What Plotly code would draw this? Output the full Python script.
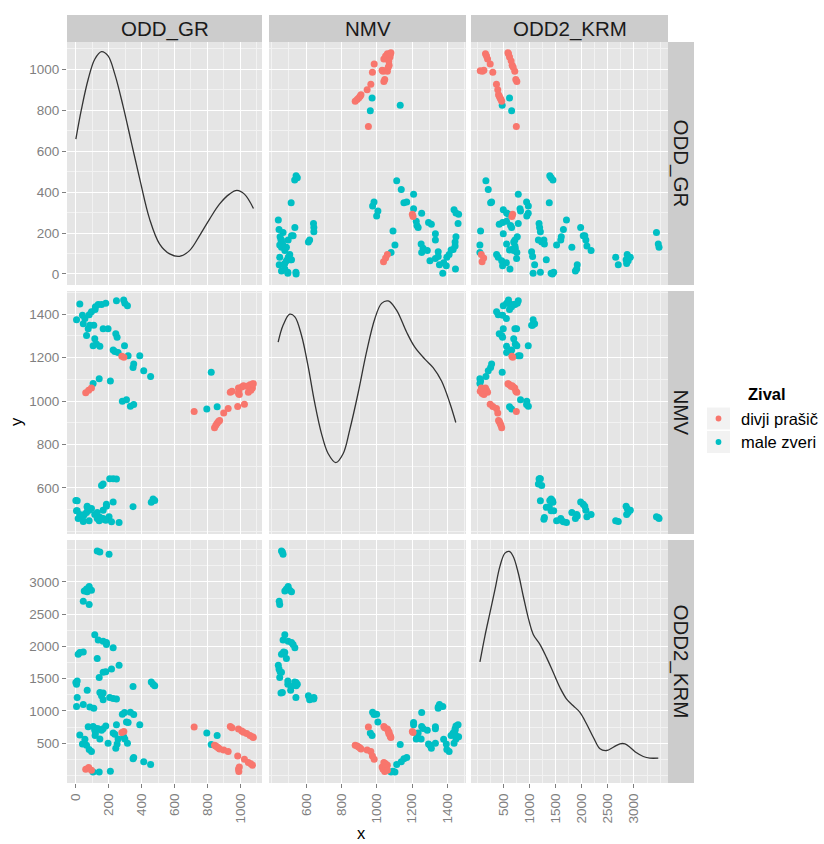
import plotly.graph_objects as go

# ---------------------------------------------------------------- data
variables = ["ODD_GR", "NMV", "ODD2_KRM"]

# divji prašič
prasic_odd_gr = [720, 844, 852, 860, 868, 875, 900, 927, 985, 1026, 1050, 1075, 1065, 990, 995,
                 992, 940, 950, 990, 1010, 1020, 1060, 1080, 1075, 1040, 60, 78, 95, 280, 292]
prasic_nmv = [952, 877, 888, 897, 905, 910, 945, 966, 975, 985, 1040, 1060, 1050, 1035, 1030,
              1045, 1040, 1045, 1060, 1065, 1070, 1075, 1080, 1078, 1068, 1038, 1050, 1060, 1206, 1202]
prasic_krm = [750, 470, 455, 440, 425, 410, 395, 370, 300, 250, 200, 160, 180, 100, 130,
              60, 760, 740, 720, 690, 670, 620, 590, 600, 650, 95, 125, 80, 665, 680]

# male zveri
zveri_odd_gr = [130, 146, 202, 45, 81, 51, 65, 81, 95, 69, 115, 136, 166, 186, 186, 227, 14, 24,
                45, 130, 263, 142, 166, 182, 217, 0, 4, 8, 459, 470, 480, 348, 146, 166, 206, 227,
                247, 8, 69, 156, 166,
                24, 4, 40, 55, 45, 81, 95, 75, 85, 109, 65, 115, 125, 105, 146, 119, 136, 156, 182,
                117, 166, 196, 247, 291, 298, 314, 243, 251, 296, 227, 237, 257, 318, 389, 352, 348,
                413, 455, 142, 105, 210, 283, 308, 332, 352,
                797, 860, 824]
zveri_nmv = [458, 463, 467, 445, 448, 477, 486, 496, 505, 515, 477, 467, 496, 515, 524, 534, 458,
             477, 470, 486, 440, 448, 458, 450, 444, 541, 494, 494, 533, 548, 541, 513, 463, 455,
             642, 642, 640, 540, 510, 611, 618,
             1447, 1375, 1395, 1380, 1356, 1398, 1411, 1333, 1349, 1349, 1302, 1287, 1263, 1255,
             1252, 1434, 1445, 1445, 1450, 1422, 1333, 1333, 1462, 1465, 1450, 1439, 1310, 1294,
             1255, 1235, 1228, 1224, 1209, 1209, 1170, 1154, 1139, 1113, 1103, 1081, 1092, 999,
             1006, 976, 984,
             963, 973, 1133]
zveri_krm = [3480, 3465, 3430, 2700, 2650, 2860, 2890, 2930, 2870, 2850, 2180, 2100, 2080, 2060,
             2030, 1980, 1880, 1905, 1915, 1812, 1709, 1520, 1600, 1610, 1650, 1440, 1415, 1465,
             1450, 1415, 1390, 1380, 1287, 1277, 1210, 1195, 1185, 1210, 1323, 1235, 1172,
             628, 1071, 487, 560, 1100, 404, 372, 755, 1061, 1042, 470, 700, 730, 760, 564, 660,
             723, 700, 768, 620, 723, 500, 787, 600, 564, 500, 423, 487, 978, 660, 640, 564, 820,
             787, 277, 258, 213, 168, 53, 53, 66, 950, 830, 980, 946,
             660, 620, 480]

group_names = ["male zveri", "divji prašič"]
group_colors = ["#00BFC4", "#F8766D"]

# density curves on the diagonal, rescaled to each variable's range
dens_odd_gr_x = [0, 34, 75, 115, 156, 196, 237, 287, 338, 389, 449, 510, 571, 631, 692, 753,
                 814, 874, 935, 980, 1026, 1081]
dens_odd_gr_y = [659, 805, 951, 1049, 1086, 1065, 976, 821, 642, 463, 268, 146, 98, 86, 114,
                 187, 268, 341, 390, 408, 390, 320]
dens_nmv_x = [439, 467, 505, 534, 572, 609, 647, 685, 723, 767, 809, 846, 894, 941, 989, 1027,
              1065, 1112, 1169, 1216, 1273, 1320, 1368, 1415, 1449]
dens_nmv_y = [1271, 1349, 1400, 1388, 1302, 1162, 991, 851, 758, 716, 758, 867, 1038, 1224, 1380,
              1450, 1461, 1419, 1318, 1248, 1193, 1154, 1092, 991, 901]
dens_krm_x = [54, 149, 245, 341, 436, 532, 615, 691, 787, 883, 978, 1074, 1201, 1329, 1457, 1584,
              1712, 1839, 1967, 2094, 2222, 2350, 2477, 2605, 2732, 2827, 2923, 3050, 3178, 3305,
              3465]
dens_krm_y = [1760, 2162, 2522, 2882, 3242, 3448, 3473, 3396, 3139, 2779, 2444, 2187, 2033, 1827,
              1596, 1364, 1184, 1081, 978, 798, 593, 413, 387, 438, 490, 490, 438, 351, 294, 269,
              269]

ticks_odd_gr = [0, 200, 400, 600, 800, 1000]
ticks_nmv = [600, 800, 1000, 1200, 1400]
ticks_krm = [500, 1000, 1500, 2000, 2500, 3000]

legend_title = "Zival"
x_title = "x"
y_title = "y"

# ---------------------------------------------------------------- setup
values = {
    "ODD_GR": (zveri_odd_gr, prasic_odd_gr),
    "NMV": (zveri_nmv, prasic_nmv),
    "ODD2_KRM": (zveri_krm, prasic_krm),
}
densities = {
    "ODD_GR": (dens_odd_gr_x, dens_odd_gr_y),
    "NMV": (dens_nmv_x, dens_nmv_y),
    "ODD2_KRM": (dens_krm_x, dens_krm_y),
}
ticks = {"ODD_GR": ticks_odd_gr, "NMV": ticks_nmv, "ODD2_KRM": ticks_krm}
ranges = {"ODD_GR": [-54, 1133], "NMV": [387, 1507], "ODD2_KRM": [-117, 3651]}
minor_step = {"ODD_GR": 100, "NMV": 100, "ODD2_KRM": 250}

W, H = 824, 844
col_px = [(67, 262), (269, 466), (471, 668)]
row_px = [(42, 285), (291, 534), (540, 783)]
FONT = "Liberation Sans, Arial, sans-serif"
TICK_GREY = "#7F7F7F"


def px_x(v):
    return v / W


def px_y(v):
    return 1 - v / H


fig = go.Figure()
layout_axes = {}

for r, row_var in enumerate(variables):
    for c, col_var in enumerate(variables):
        k = r * 3 + c + 1
        xa = "x" if k == 1 else f"x{k}"
        ya = "y" if k == 1 else f"y{k}"
        if r == c:
            dx, dy = densities[col_var]
            fig.add_trace(go.Scatter(
                x=dx, y=dy, mode="lines", xaxis=xa, yaxis=ya,
                line=dict(color="#333333", width=1.3, shape="spline", smoothing=1.0),
                showlegend=False, hoverinfo="skip"))
        else:
            for g in range(2):
                fig.add_trace(go.Scatter(
                    x=values[col_var][g], y=values[row_var][g], mode="markers",
                    xaxis=xa, yaxis=ya, name=group_names[g], showlegend=False,
                    marker=dict(color=group_colors[g], size=7, line=dict(width=0))))

        bottom = r == 2
        left = c == 0
        common = dict(
            gridcolor="white", gridwidth=1.4, zeroline=False, showline=False,
            tickmode="array",
            tickfont=dict(family=FONT, size=13.5, color=TICK_GREY),
            tickcolor=TICK_GREY, ticklen=4, tickwidth=1,
        )
        x_key = "xaxis" if k == 1 else f"xaxis{k}"
        y_key = "yaxis" if k == 1 else f"yaxis{k}"
        layout_axes[x_key] = dict(
            common,
            domain=[px_x(col_px[c][0]), px_x(col_px[c][1])],
            anchor=ya, range=ranges[col_var], tickvals=ticks[col_var],
            showticklabels=bottom, ticks="outside" if bottom else "",
            tickangle=-90,
            minor=dict(tickmode="linear", tick0=0, dtick=minor_step[col_var], showgrid=True,
                       gridcolor="#F2F2F2", gridwidth=0.8, ticks=""),
        )
        layout_axes[y_key] = dict(
            common,
            domain=[px_y(row_px[r][1]), px_y(row_px[r][0])],
            anchor=xa, range=ranges[row_var], tickvals=ticks[row_var],
            showticklabels=left, ticks="outside" if left else "",
            minor=dict(tickmode="linear", tick0=0, dtick=minor_step[row_var], showgrid=True,
                       gridcolor="#F2F2F2", gridwidth=0.8, ticks=""),
        )

shapes = []
annotations = []

# facet strips: top (columns) and right (rows)
for c, name in enumerate(variables):
    x0, x1 = col_px[c]
    shapes.append(dict(type="rect", xref="paper", yref="paper",
                       x0=px_x(x0), x1=px_x(x1), y0=px_y(42), y1=px_y(15),
                       fillcolor="#CCCCCC", line=dict(width=0)))
    annotations.append(dict(text=name, xref="paper", yref="paper",
                            x=px_x((x0 + x1) / 2), y=px_y(28.5), showarrow=False,
                            xanchor="center", yanchor="middle",
                            font=dict(family=FONT, size=20.5, color="#1A1A1A")))
for r, name in enumerate(variables):
    y0, y1 = row_px[r]
    shapes.append(dict(type="rect", xref="paper", yref="paper",
                       x0=px_x(668), x1=px_x(694), y0=px_y(y1), y1=px_y(y0),
                       fillcolor="#CCCCCC", line=dict(width=0)))
    annotations.append(dict(text=name, xref="paper", yref="paper",
                            x=px_x(681), y=px_y((y0 + y1) / 2), showarrow=False,
                            textangle=90, xanchor="center", yanchor="middle",
                            font=dict(family=FONT, size=20.5, color="#1A1A1A")))

# axis titles
annotations.append(dict(text=y_title, xref="paper", yref="paper", x=px_x(16), y=px_y(421),
                        showarrow=False, textangle=-90, xanchor="center", yanchor="middle",
                        font=dict(family=FONT, size=16.5, color="#000000")))
annotations.append(dict(text=x_title, xref="paper", yref="paper", x=px_x(361), y=0,
                        showarrow=False, xanchor="center", yanchor="bottom",
                        font=dict(family=FONT, size=16.5, color="#000000")))

# legend
annotations.append(dict(text=f"<b>{legend_title}</b>", xref="paper", yref="paper",
                        x=px_x(746), y=px_y(394), showarrow=False,
                        xanchor="left", yanchor="middle",
                        font=dict(family=FONT, size=16.5, color="#000000")))
legend_rows = [(1, 418.5), (0, 442)]
for g, yc in legend_rows:
    shapes.append(dict(type="rect", xref="paper", yref="paper",
                       x0=px_x(707), x1=px_x(730), y0=px_y(yc + 11), y1=px_y(yc - 11),
                       fillcolor="#F2F2F2", line=dict(width=0)))
    shapes.append(dict(type="circle", xref="paper", yref="paper",
                       x0=px_x(718.5 - 2.9), x1=px_x(718.5 + 2.9),
                       y0=px_y(yc + 2.9), y1=px_y(yc - 2.9),
                       fillcolor=group_colors[g], line=dict(width=0)))
    annotations.append(dict(text=group_names[g], xref="paper", yref="paper",
                            x=px_x(739), y=px_y(yc), showarrow=False,
                            xanchor="left", yanchor="middle",
                            font=dict(family=FONT, size=16.5, color="#000000")))

fig.update_layout(
    width=W, height=H,
    margin=dict(l=0, r=0, t=0, b=0),
    paper_bgcolor="white", plot_bgcolor="#E5E5E5",
    showlegend=False,
    shapes=shapes, annotations=annotations,
    **layout_axes,
)

fig.write_html("out.html")
